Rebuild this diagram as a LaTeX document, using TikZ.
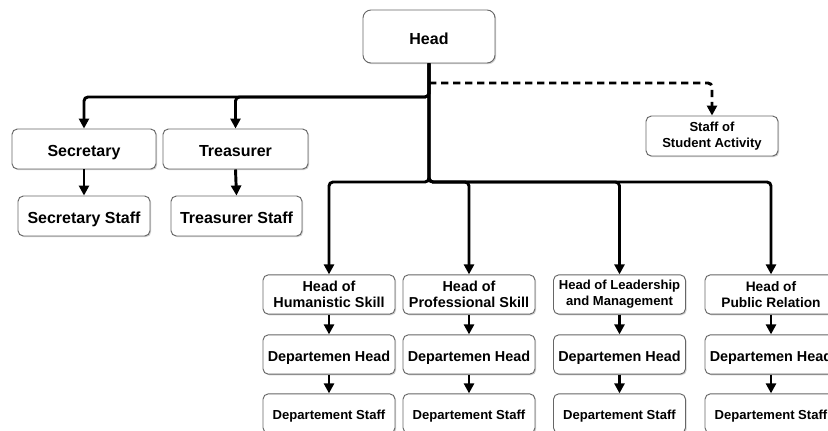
\documentclass[tikz,border=0pt]{standalone}
\usepackage{fontspec}
\setmainfont{Liberation Sans}
\usetikzlibrary{arrows.meta,shadows}
\tikzset{
  box/.style={draw=black!60, fill=white, line width=0.7pt, rounded corners=4pt, align=center, inner sep=0pt,
    minimum width=99pt, minimum height=29.5pt, font=\bfseries,
    drop shadow={shadow xshift=0.9pt, shadow yshift=-0.9pt, opacity=0.3, fill=black!60}},
  conn/.style={line width=2.2pt, rounded corners=3pt, -{Triangle[width=7.5pt,length=7.5pt]}},
  dconn/.style={conn, dash pattern=on 5.5pt off 3.5pt},
  fA/.style={font=\fontsize{12}{14}\selectfont\bfseries},
  fB/.style={font=\fontsize{10.8}{12.5}\selectfont\bfseries},
  fC/.style={font=\fontsize{9.8}{11.8}\selectfont\bfseries},
  oneA/.style={fA, text height=11.4pt, text depth=0pt},
  oneB/.style={fB, text height=10.3pt, text depth=0pt},
  oneC/.style={fC, text height=9.3pt, text depth=0pt},
}
\begin{document}
\begin{tikzpicture}[x=0.75pt,y=-0.75pt]
\useasboundingbox (0,0) rectangle (828,430);
\clip (0,0) rectangle (828,430);
% top
\node[box, oneA, rounded corners=6pt, minimum width=99pt, minimum height=39.75pt] (head) at (429,36.5) {Head};
\node[box, oneA, minimum width=108pt, minimum height=30pt] (sec) at (84,149) {Secretary};
\node[box, oneA, minimum width=108.75pt, minimum height=30pt] (tre) at (235.5,149) {Treasurer};
\node[box, oneA, minimum width=99pt, minimum height=30pt] (secs) at (84,216) {Secretary Staff};
\node[box, oneA, minimum width=98.25pt, minimum height=30pt] (tres) at (236.5,216) {Treasurer Staff};
\node[box, fC, minimum width=99pt, minimum height=30pt] (sa) at (712,136) {Staff of\\Student Activity};
% columns
\node[box, fB] (c1a) at (329,294.5) {Head of\\Humanistic Skill};
\node[box, oneB] (c1b) at (329,354.5) {Departemen Head};
\node[box, oneC] (c1c) at (329,413.5) {Departement Staff};
\node[box, fB] (c2a) at (469,294.5) {Head of\\Professional Skill};
\node[box, oneB] (c2b) at (469,354.5) {Departemen Head};
\node[box, oneC] (c2c) at (469,413.5) {Departement Staff};
\node[box, fC] (c3a) at (619.5,294.5) {Head of Leadership\\and Management};
\node[box, oneB] (c3b) at (619.5,354.5) {Departemen Head};
\node[box, oneC] (c3c) at (619.5,413.5) {Departement Staff};
\node[box, font=\fontsize{10.3}{12.5}\selectfont\bfseries] (c4a) at (771,294.5) {Head of\\Public Relation};
\node[box, oneB] (c4b) at (771,354.5) {Departemen Head};
\node[box, oneC] (c4c) at (771,413.5) {Departement Staff};
% junctions
\coordinate (busL) at (429,97);
\coordinate (busB) at (429,182);
\coordinate (dsh) at (429,83);
% connectors
\draw[conn] (head.south) -- (busL) -| (sec.north);
\draw[conn] (head.south) -- (busL) -| (tre.north);
\draw[dconn] (dsh) -| (sa.north);
\draw[conn] (head.south) -- (busB) -| (c1a.north);
\draw[conn] (head.south) -- (busB) -| (c2a.north);
\draw[conn] (head.south) -- (busB) -| (c3a.north);
\draw[conn] (head.south) -- (busB) -| (c4a.north);
\draw[conn] (sec.south) -- (secs.north);
\draw[conn] (tre.south) -- (tres.north);
\foreach \c in {c1,c2,c3,c4}{
  \draw[conn] (\c a.south) -- (\c b.north);
  \draw[conn] (\c b.south) -- (\c c.north);
}
\end{tikzpicture}
\end{document}
